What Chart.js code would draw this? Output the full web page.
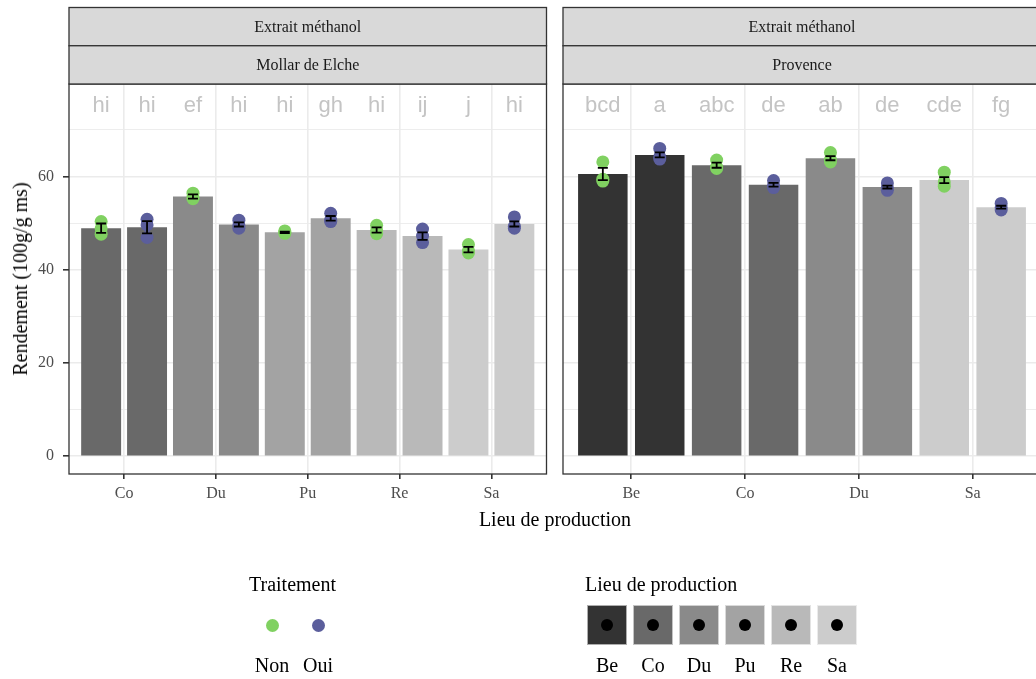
<!DOCTYPE html>
<html>
<head>
<meta charset="utf-8">
<script src="https://cdn.jsdelivr.net/npm/chart.js@4.4.0/dist/chart.umd.min.js"></script>
<style>
  html, body { margin: 0; padding: 0; background: #fff; overflow: hidden; width: 1036px; height: 679px; }
  .box { position: absolute; top: 0; }
  .txt { position: absolute; font-family: 'Liberation Serif', serif; color: #000; white-space: nowrap; line-height: 1; }
  .dot { position: absolute; border-radius: 50%; }
  .sq { position: absolute; width: 40px; height: 40px; box-sizing: border-box; border: 1px solid rgba(255,255,255,0.6); }
</style>
</head>
<body>
<div class="box" style="left:0px"><canvas id="left" width="553" height="679"></canvas></div>
<div class="box" style="left:556px"><canvas id="right" width="494" height="679"></canvas></div>
<div id="legend"></div>

<script>
// couleurs
const lieuxAll = ['Be', 'Co', 'Du', 'Pu', 'Re', 'Sa'];
const lieuColors = ['#333333', '#696969', '#8A8A8A', '#A3A3A3', '#B9B9B9', '#CCCCCC'];
const traitements = ['Non', 'Oui'];
const traitColors = ['#80d161', '#5b5e9c'];

// Mollar de Elche
const mollarLieux = ['Co', 'Du', 'Pu', 'Re', 'Sa'];
const mollarMoyNon = [48.9, 55.7, 48.0, 48.5, 44.3];
const mollarMoyOui = [49.1, 49.7, 51.0, 47.2, 49.8];
const mollarEtNon = [1.0, 0.45, 0.15, 0.55, 0.6];
const mollarEtOui = [1.3, 0.45, 0.5, 0.8, 0.55];
const mollarPtsNon = [[50.3, 48.8, 47.6], [56.4, 55.6, 55.2], [48.3, 48.0, 47.8], [49.5, 48.4, 47.7], [45.4, 44.0, 43.6]];
const mollarPtsOui = [[50.8, 49.6, 46.9], [50.6, 49.6, 48.9], [52.1, 50.6, 50.3], [48.7, 47.2, 45.8], [51.3, 49.3, 48.9]];
const mollarLettres = ['hi', 'hi', 'ef', 'hi', 'hi', 'gh', 'hi', 'ij', 'j', 'hi'];

// Provence
const provLieux = ['Be', 'Co', 'Du', 'Sa'];
const provMoyNon = [60.5, 62.4, 63.9, 59.2];
const provMoyOui = [64.6, 58.2, 57.7, 53.4];
const provEtNon = [1.3, 0.55, 0.45, 0.65];
const provEtOui = [0.55, 0.4, 0.3, 0.3];
const provPtsNon = [[63.1, 59.4, 59.0], [63.5, 62.0, 61.7], [65.1, 63.6, 63.1], [60.9, 58.8, 57.9]];
const provPtsOui = [[66.0, 64.2, 63.7], [59.1, 58.0, 57.6], [58.6, 57.6, 57.0], [54.2, 53.3, 52.8]];
const provLettres = ['bcd', 'a', 'abc', 'de', 'ab', 'de', 'cde', 'fg'];

const yTicks = [0, 10, 20, 30, 40, 50, 60, 70];
const LETTRE_Y = 73.9;

const SERIF = "'Liberation Serif', serif";

function makePanel(id, p) {
    let n = p.lieux.length;
    let barData = [], barColors = [], ptsNon = [], ptsOui = [], errs = [], xTicks = [];
    p.lieux.forEach((l, i) => {
        let col = lieuColors[lieuxAll.indexOf(l)];
        barData.push({ x: 2 * i, y: p.moyNon[i] }, { x: 2 * i + 1, y: p.moyOui[i] });
        barColors.push(col, col);
        p.ptsNon[i].forEach(v => ptsNon.push({ x: 2 * i, y: v }));
        p.ptsOui[i].forEach(v => ptsOui.push({ x: 2 * i + 1, y: v }));
        errs.push({ x: 2 * i, m: p.moyNon[i], e: p.etNon[i] }, { x: 2 * i + 1, m: p.moyOui[i], e: p.etOui[i] });
        xTicks.push(2 * i + 0.5);
    });

    const decor = {
        id: 'decor',
        afterDatasetsDraw(chart) {
            let ctx = chart.ctx, xs = chart.scales.x, ys = chart.scales.y;
            ctx.save();
            ctx.strokeStyle = '#000';
            ctx.lineWidth = 1.8;
            errs.forEach(e => {
                let x = xs.getPixelForValue(e.x);
                let y1 = ys.getPixelForValue(e.m - e.e), y2 = ys.getPixelForValue(e.m + e.e);
                ctx.beginPath();
                ctx.moveTo(x, y1); ctx.lineTo(x, y2);
                ctx.moveTo(x - 5, y1); ctx.lineTo(x + 5, y1);
                ctx.moveTo(x - 5, y2); ctx.lineTo(x + 5, y2);
                ctx.stroke();
            });
            ctx.fillStyle = '#c4c4c4';
            ctx.font = "22px 'Liberation Sans', sans-serif";
            ctx.textAlign = 'center';
            ctx.textBaseline = 'alphabetic';
            p.lettres.forEach((t, i) => {
                ctx.fillText(t, xs.getPixelForValue(i), ys.getPixelForValue(LETTRE_Y));
            });
            ctx.restore();
        },
        afterDraw(chart) {
            let ctx = chart.ctx, a = chart.chartArea;
            ctx.save();
            ctx.strokeStyle = '#333';
            ctx.lineWidth = 1.3;
            ctx.strokeRect(a.left, a.top, a.right - a.left, a.bottom - a.top);
            let h = (a.top - 7.5) / 2;
            p.strips.forEach((s, k) => {
                let top = 7.5 + k * h;
                ctx.fillStyle = '#d9d9d9';
                ctx.fillRect(a.left, top, a.right - a.left, h);
                ctx.strokeRect(a.left, top, a.right - a.left, h);
                ctx.fillStyle = '#1a1a1a';
                ctx.font = '16px ' + SERIF;
                ctx.textAlign = 'center';
                ctx.textBaseline = 'middle';
                ctx.fillText(s, (a.left + a.right) / 2, top + h / 2 + 1);
            });
            ctx.restore();
        }
    };

    return new Chart(document.getElementById(id), {
        type: 'bar',
        data: {
            datasets: [
                { type: 'scatter', data: ptsNon, backgroundColor: traitColors[0], pointRadius: 6.5, pointBorderWidth: 0, order: 1 },
                { type: 'scatter', data: ptsOui, backgroundColor: traitColors[1], pointRadius: 6.5, pointBorderWidth: 0, order: 1 },
                { type: 'bar', data: barData, backgroundColor: barColors, barPercentage: 0.87, categoryPercentage: 1, order: 2 }
            ]
        },
        options: {
            responsive: false,
            animation: false,
            devicePixelRatio: 1,
            layout: { padding: { top: 84, left: p.padLeft, right: p.padRight, bottom: 679 - 474 - 40 } },
            plugins: { legend: { display: false }, tooltip: { enabled: false } },
            scales: {
                x: {
                    type: 'linear', min: -0.7, max: 2 * n - 0.3, offset: false,
                    afterBuildTicks: s => { s.ticks = xTicks.map(v => ({ value: v })); },
                    afterFit: s => { s.height = 40; },
                    ticks: {
                        autoSkip: false, maxRotation: 0, padding: 5,
                        callback: (v, i) => p.lieux[i],
                        font: { family: SERIF, size: 16 }, color: '#4d4d4d'
                    },
                    grid: { offset: false, color: '#ebebeb', lineWidth: 1.6, tickColor: '#333', tickLength: 5 },
                    border: { display: false }
                },
                y: {
                    type: 'linear', min: -3.8, max: 79.8,
                    afterBuildTicks: s => { s.ticks = yTicks.map(v => ({ value: v })); },
                    afterFit: s => { s.width = p.showY ? 69 : 0; },
                    ticks: {
                        display: p.showY, padding: 9,
                        callback: v => (v % 20 === 0 ? String(v) : ''),
                        font: { family: SERIF, size: 16 }, color: '#4d4d4d'
                    },
                    grid: {
                        color: '#ebebeb',
                        lineWidth: c => (c.tick && c.tick.value % 20 === 0 ? 1.6 : 0.9),
                        tickColor: c => (p.showY && c.tick && c.tick.value % 20 === 0 ? '#333' : 'rgba(0,0,0,0)'),
                        tickLength: 6
                    },
                    border: { display: false }
                }
            }
        },
        plugins: [decor]
    });
}

makePanel('left', {
    lieux: mollarLieux, moyNon: mollarMoyNon, moyOui: mollarMoyOui, etNon: mollarEtNon, etOui: mollarEtOui,
    ptsNon: mollarPtsNon, ptsOui: mollarPtsOui, lettres: mollarLettres,
    strips: ['Extrait méthanol', 'Mollar de Elche'], showY: true, padLeft: 0, padRight: 6
});
makePanel('right', {
    lieux: provLieux, moyNon: provMoyNon, moyOui: provMoyOui, etNon: provEtNon, etOui: provEtOui,
    ptsNon: provPtsNon, ptsOui: provPtsOui, lettres: provLettres,
    strips: ['Extrait méthanol', 'Provence'], showY: false, padLeft: 7, padRight: 9
});

// titres et légende
function addText(txt, x, y, size, align) {
    let d = document.createElement('div');
    d.className = 'txt';
    d.textContent = txt;
    d.style.left = x + 'px';
    d.style.top = y + 'px';
    d.style.fontSize = size + 'px';
    d.style.transform = align === 'left' ? 'translateY(-50%)' : (align === 'rot' ? 'translate(-50%,-50%) rotate(-90deg)' : 'translate(-50%,-50%)');
    document.body.appendChild(d);
}

addText('Rendement (100g/g ms)', 20, 279, 20, 'rot');
addText('Lieu de production', 555, 519, 20, 'center');

addText('Traitement', 249, 584, 20, 'left');
traitements.forEach((t, i) => {
    let cx = 272 + 46 * i;
    let d = document.createElement('div');
    d.className = 'dot';
    d.style.cssText = `left:${cx - 6.5}px;top:${625 - 6.5}px;width:13px;height:13px;background:${traitColors[i]}`;
    document.body.appendChild(d);
    addText(t, cx, 665, 20, 'center');
});

addText('Lieu de production', 585, 584, 20, 'left');
lieuxAll.forEach((l, i) => {
    let x = 587 + 46 * i;
    let s = document.createElement('div');
    s.className = 'sq';
    s.style.left = x + 'px';
    s.style.top = '605px';
    s.style.background = lieuColors[i];
    document.body.appendChild(s);
    let d = document.createElement('div');
    d.className = 'dot';
    d.style.cssText = `left:${x + 14}px;top:619px;width:12px;height:12px;background:#000`;
    document.body.appendChild(d);
    addText(l, x + 20, 665, 20, 'center');
});
</script>
</body>
</html>
